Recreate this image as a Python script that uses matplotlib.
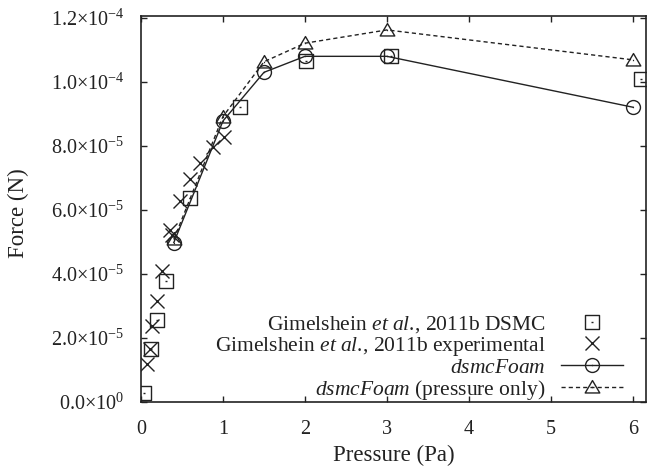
import numpy as np
import matplotlib
matplotlib.use("Agg")
import matplotlib.pyplot as plt
from matplotlib.path import Path

plt.rcParams['font.family'] = ['Liberation Serif', 'DejaVu Serif']
plt.rcParams['mathtext.fontset'] = 'custom'
plt.rcParams['mathtext.rm'] = 'Liberation Serif'
plt.rcParams['mathtext.it'] = 'Liberation Serif:italic'
plt.rcParams['mathtext.bf'] = 'Liberation Serif:bold'

# ---- data ----
dsmc_p = [0.04, 0.12, 0.20, 0.30, 0.60, 1.21, 2.01, 3.05, 6.10]
dsmc_f = [2.7e-6, 1.65e-5, 2.56e-5, 3.78e-5, 6.37e-5, 9.23e-5, 1.064e-4, 1.082e-4, 1.009e-4]

exp_p = [0.077, 0.11, 0.138, 0.195, 0.256, 0.354, 0.374, 0.476, 0.598, 0.72, 0.88, 1.01]
exp_f = [1.18e-5, 1.66e-5, 2.375e-5, 3.16e-5, 4.10e-5, 5.375e-5, 5.22e-5, 6.29e-5, 6.97e-5, 7.46e-5, 7.98e-5, 8.29e-5]

foam_p = [0.40, 1.0, 1.5, 2.0, 3.0, 6.0]
foam_f = [4.98e-5, 8.78e-5, 1.030e-4, 1.080e-4, 1.080e-4, 9.21e-5]

press_p = [0.40, 1.0, 1.5, 2.0, 3.0, 6.0]
press_f = [5.08e-5, 8.92e-5, 1.063e-4, 1.121e-4, 1.1625e-4, 1.069e-4]

x_ticks = [0, 1, 2, 3, 4, 5, 6]
y_ticks = [0.0, 2e-5, 4e-5, 6e-5, 8e-5, 1.0e-4, 1.2e-4]
y_tick_labels = ["0.0\u00d710$^{0}$", "2.0\u00d710$^{-5}$", "4.0\u00d710$^{-5}$",
                 "6.0\u00d710$^{-5}$", "8.0\u00d710$^{-5}$", "1.0\u00d710$^{-4}$",
                 "1.2\u00d710$^{-4}$"]

labels = ["Gimelshein $\\mathit{et\\ al}$., 2011b DSMC",
          "Gimelshein $\\mathit{et\\ al}$., 2011b experimental",
          "$\\mathit{dsmcFoam}$",
          "$\\mathit{dsmcFoam}$ (pressure only)"]

# ---- markers with centre dot (gnuplot style) ----
def with_dot(base):
    dot = Path([(-0.08, 0.0), (0.08, 0.0)], [Path.MOVETO, Path.LINETO])
    return Path.make_compound_path(base, dot)

sq = Path([(-1, -1), (1, -1), (1, 1), (-1, 1), (-1, -1)],
          [Path.MOVETO, Path.LINETO, Path.LINETO, Path.LINETO, Path.CLOSEPOLY])
tri = Path([(0, 0.95), (-1, -0.75), (1, -0.75), (0, 0.95)],
           [Path.MOVETO, Path.LINETO, Path.LINETO, Path.CLOSEPOLY])
circ = Path.unit_circle()
m_sq = with_dot(sq)
m_tri = with_dot(tri)
m_circ = with_dot(circ)

ink = '#222222'
fig = plt.figure(figsize=(6.48, 4.68), dpi=100)
ax = fig.add_axes([141/648, 1 - 402/468, (646-141)/648, (402-16)/468])

ax.plot(dsmc_p, dsmc_f, linestyle='none', marker=m_sq, ms=9.5, mfc='none',
        mec=ink, mew=1.0, label=labels[0])
ax.plot(exp_p, exp_f, linestyle='none', marker='x', ms=9.5, mec=ink,
        mew=1.0, label=labels[1])
ax.plot(foam_p, foam_f, color=ink, lw=1.0, marker=m_circ, ms=10,
        mfc='none', mec=ink, mew=1.0, label=labels[2])
ax.plot(press_p, press_f, color=ink, lw=1.0, linestyle=(0, (3, 2.2)),
        marker=m_tri, ms=10.5, mfc='none', mec=ink, mew=1.0, label=labels[3])

ax.set_xlim(0, 6.16)
ax.set_ylim(0, 1.206e-4)
ax.set_xticks(x_ticks)
ax.set_xticklabels([str(v) for v in x_ticks])
ax.set_yticks(y_ticks)
ax.set_yticklabels(y_tick_labels)

ax.tick_params(axis='both', direction='in', length=4.5, width=1.0,
               top=True, right=True, labelsize=14.5, colors=ink)
ax.tick_params(axis='x', pad=13)
ax.tick_params(axis='y', pad=12)
for s in ax.spines.values():
    s.set_linewidth(1.2)
    s.set_color(ink)

ax.set_xlabel("Pressure (Pa)", fontsize=16.5, color=ink, va='top')
ax.xaxis.set_label_coords(0.5, -0.112)
ax.set_ylabel("Force (N)", fontsize=16.5, color=ink, va='bottom')
ax.yaxis.set_label_coords(-0.222, 0.49)

leg = ax.legend(loc='lower right', bbox_to_anchor=(0.955, 0.0),
                frameon=False, markerfirst=False, fontsize=15.5,
                handlelength=2.9, handletextpad=0.7, labelspacing=0.0,
                borderpad=0.0, borderaxespad=0.0)
for t in leg.get_texts():
    t.set_color(ink)

fig.savefig("out.png", dpi=100)
